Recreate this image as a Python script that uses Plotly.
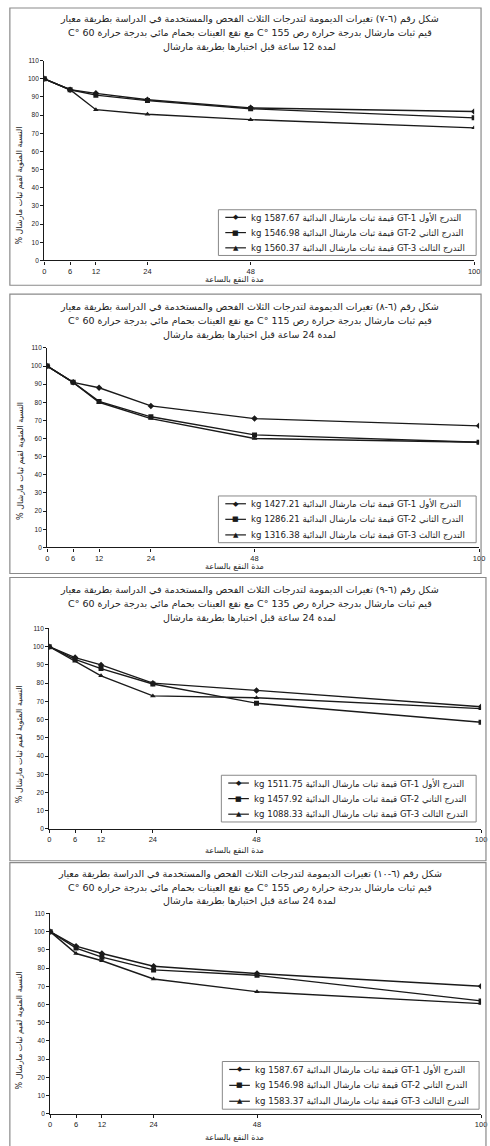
import plotly.graph_objects as go

W, H = 490, 1146

# ---------------- data ----------------
hours = [0, 6, 12, 24, 48, 100]
x_tick_text = ["0", "6", "12", "24", "48", "100"]
y_tick_vals = [0, 10, 20, 30, 40, 50, 60, 70, 80, 90, 100, 110]

c1_gt1 = [100, 94, 92, 88.5, 84, 82]
c1_gt2 = [100, 94, 91, 88, 83.5, 78.5]
c1_gt3 = [100, 94, 83, 80.5, 77.5, 73]

c2_gt1 = [100, 91, 88, 78, 71, 67]
c2_gt2 = [100, 91, 80.5, 72, 62, 58]
c2_gt3 = [100, 91, 80, 71, 60, 58]

c3_gt1 = [100, 94, 90, 80, 76, 67]
c3_gt2 = [100, 93, 88, 79.5, 69, 58.5]
c3_gt3 = [100, 92, 84, 73, 72, 66]

c4_gt1 = [100, 92, 88, 81, 77, 70]
c4_gt2 = [100, 91, 86, 79, 76, 62]
c4_gt3 = [100, 88, 84, 74, 67, 60.5]

series_names = ["التدرج الأول GT-1", "التدرج الثاني GT-2", "التدرج الثالث GT-3"]
c1_initial = ["1587.67", "1546.98", "1560.37"]
c2_initial = ["1427.21", "1286.21", "1316.38"]
c3_initial = ["1511.75", "1457.92", "1088.33"]
c4_initial = ["1587.67", "1546.98", "1583.37"]

fig_numbers = ["(٦-٧)", "(٦-٨)", "(٦-٩)", "(٦-١٠)"]
compaction_temps = ["155", "115", "135", "155"]
soak_hours = ["12", "24", "24", "24"]

x_title = "مدة النقع بالساعة"
y_title = "النسبة المئوية لقيم ثبات مارشال %"

charts = [
    [c1_gt1, c1_gt2, c1_gt3],
    [c2_gt1, c2_gt2, c2_gt3],
    [c3_gt1, c3_gt2, c3_gt3],
    [c4_gt1, c4_gt2, c4_gt3],
]
initials = [c1_initial, c2_initial, c3_initial, c4_initial]

# ---------------- layout geometry (pixels) ----------------
panels = [
    dict(box=(8, 4, 487, 283), ty=(15, 29, 43), px_=(43, 480), py_=(258, 57),
         xt=277.5, yt=183, leg=(220, 207, 482, 253)),
    dict(box=(8, 292, 487, 573), ty=(305, 319, 333), px_=(46, 485), py_=(546.7, 346),
         xt=566, yt=460, leg=(220, 495, 482, 542)),
    dict(box=(8, 577, 492, 862), ty=(590, 604, 617), px_=(48, 487), py_=(830, 628.3),
         xt=852, yt=745, leg=(223, 776, 482, 823)),
    dict(box=(8, 864, 492, 1150), ty=(875, 889, 902), px_=(49, 487), py_=(1116.7, 915),
         xt=1140.5, yt=1033, leg=(224, 1064, 485, 1112)),
]

def fx(x):
    return x / W

def fy(y):
    return 1 - y / H

def rtl(s):
    return "\u202B" + s + "\u202C"

symbols = ["diamond", "square", "triangle-up"]
glyphs = ["◆", "■", "▲"]
INK = "#1a1a1a"
AR_FONT = "DejaVu Sans"
NUM_FONT = "Liberation Sans, Arial"
DEG = "C°\u200E"

fig = go.Figure()
shapes = []
annotations = []
layout_axes = {}

for i, (series, init, p) in enumerate(zip(charts, initials, panels)):
    n = i + 1
    xa = "x" if n == 1 else f"x{n}"
    ya = "y" if n == 1 else f"y{n}"
    xkey = "xaxis" if n == 1 else f"xaxis{n}"
    ykey = "yaxis" if n == 1 else f"yaxis{n}"

    for s, vals in enumerate(series):
        fig.add_trace(go.Scatter(
            x=hours, y=vals, mode="lines+markers", xaxis=xa, yaxis=ya,
            line=dict(color=INK, width=1.4),
            marker=dict(symbol=symbols[s], size=5, color=INK),
            showlegend=False, hoverinfo="skip"))

    layout_axes[xkey] = dict(
        domain=[fx(p["px_"][0]), fx(p["px_"][1])], anchor=ya, range=[0, 100],
        tickmode="array", tickvals=hours, ticktext=x_tick_text,
        showline=True, linecolor=INK, linewidth=1.3, ticks="outside",
        ticklen=3, tickcolor=INK, showgrid=False, zeroline=False,
        tickfont=dict(family=NUM_FONT, size=7.5, color="#222"), fixedrange=True)
    layout_axes[ykey] = dict(
        domain=[fy(p["py_"][0]), fy(p["py_"][1])], anchor=xa, range=[0, 110],
        tickmode="array", tickvals=y_tick_vals,
        showline=True, linecolor=INK, linewidth=1.3, ticks="outside",
        ticklen=3, tickcolor=INK, showgrid=False, zeroline=False,
        tickfont=dict(family=NUM_FONT, size=6.5, color="#222"), fixedrange=True)

    # panel border
    bx0, by0, bx1, by1 = p["box"]
    shapes.append(dict(type="rect", xref="paper", yref="paper",
                       x0=fx(bx0), x1=fx(bx1), y0=fy(by1), y1=fy(by0),
                       line=dict(color="#8a8a8a", width=1.2)))

    # titles
    lines = [
        f"شكل رقم {fig_numbers[i]} تغيرات الديمومة لتدرجات الثلاث الفحص والمستخدمة في الدراسة بطريقة معيار",
        f"قيم ثبات مارشال بدرجة حرارة رص {compaction_temps[i]} {DEG} مع نقع العينات بحمام مائي بدرجة حرارة 60 {DEG}",
        f"لمدة {soak_hours[i]} ساعة قبل اختبارها بطريقة مارشال",
    ]
    for line, yy in zip(lines, p["ty"]):
        annotations.append(dict(xref="paper", yref="paper", x=fx(252), y=fy(yy),
                                text=rtl(line), showarrow=False, xanchor="center",
                                yanchor="middle",
                                font=dict(family=AR_FONT, size=9.5, color="#222")))

    # axis titles
    annotations.append(dict(xref="paper", yref="paper", x=fx(236), y=fy(p["xt"]),
                            text=rtl(x_title), showarrow=False, xanchor="center",
                            yanchor="middle",
                            font=dict(family=AR_FONT, size=8, color="#222")))
    annotations.append(dict(xref="paper", yref="paper", x=fx(18), y=fy(p["yt"]),
                            text=rtl(y_title), showarrow=False, textangle=-90,
                            xanchor="center", yanchor="middle",
                            font=dict(family=AR_FONT, size=8, color="#222")))

    # legend (drawn)
    lx0, ly0, lx1, ly1 = p["leg"]
    shapes.append(dict(type="rect", xref="paper", yref="paper",
                       x0=fx(lx0), x1=fx(lx1), y0=fy(ly1), y1=fy(ly0),
                       line=dict(color="#888", width=1), fillcolor="white"))
    step = (ly1 - ly0) / 3.0
    for s in range(3):
        ry = ly0 + step * (s + 0.5)
        shapes.append(dict(type="line", xref="paper", yref="paper",
                           x0=fx(lx0 + 7), x1=fx(lx0 + 28), y0=fy(ry), y1=fy(ry),
                           line=dict(color=INK, width=1.2)))
        annotations.append(dict(xref="paper", yref="paper", x=fx(lx0 + 17.5), y=fy(ry),
                                text=glyphs[s], showarrow=False, xanchor="center",
                                yanchor="middle",
                                font=dict(family="DejaVu Sans", size=7, color=INK)))
        label = f"{series_names[s]} قيمة ثبات مارشال البدائية {init[s]} kg"
        annotations.append(dict(xref="paper", yref="paper", x=fx(lx0 + 31), y=fy(ry),
                                text=rtl(label), showarrow=False, xanchor="left",
                                yanchor="middle",
                                font=dict(family=AR_FONT, size=8.6, color="#222")))

fig.update_layout(
    width=W, height=H, margin=dict(l=0, r=0, t=0, b=0),
    paper_bgcolor="white", plot_bgcolor="white",
    shapes=shapes, annotations=annotations, showlegend=False,
    **layout_axes)

fig.write_html("out.html", config={"displayModeBar": False})
